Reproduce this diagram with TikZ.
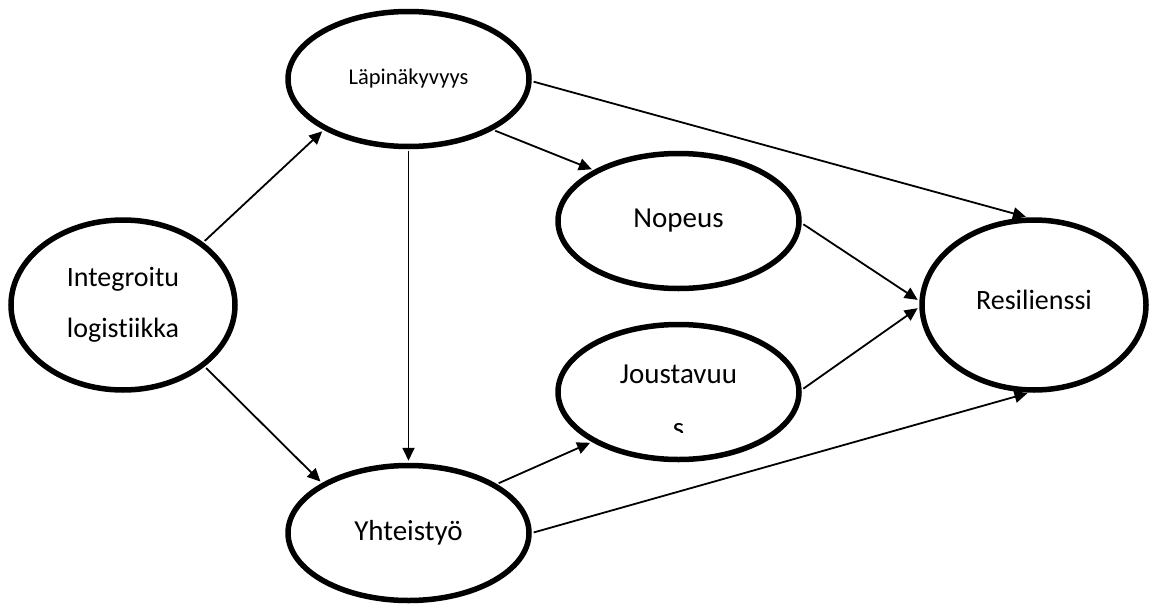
\documentclass[tikz,border=0pt]{standalone}
\usepackage{fontspec}
\setmainfont[Ligatures=NoCommon]{Carlito}
\usetikzlibrary{shapes.geometric,arrows.meta}

\tikzset{
  concept/.style={ellipse, draw=black, line width=5.5pt, fill=white, inner sep=0pt,
                  align=center, text=black},
  wide/.style={concept, minimum width=241pt, minimum height=135pt},
  round/.style={concept, minimum width=224pt, minimum height=170pt},
  link/.style={line width=1.8pt, -{Triangle[length=13pt,width=12pt]},
               shorten >=2pt, shorten <=2pt},
}

\begin{document}
\begin{tikzpicture}[x=1pt, y=-1pt]
  \useasboundingbox (0,0) rectangle (1149,605);

  % constructs
  \node[round, font=\fontsize{28}{51}\selectfont] (int) at (123,305)
    {Integroitu\\logistiikka};
  \node[wide, font=\fontsize{22.5}{26}\selectfont] (lap) at (408.5,79) {Läpinäkyvyys};
  \node[wide, font=\fontsize{29}{34}\selectfont] (nop) at (678.5,221) {Nopeus};
  \node[wide] (jou) at (678.5,392) {};
  \node[wide, font=\fontsize{29}{34}\selectfont] (yht) at (408.5,533) {Yhteistyö};
  \node[round, font=\fontsize{28}{32}\selectfont] (res) at (1034,305)
    {\raisebox{10pt}{Resilienssi}};

  % wrapped label of the flexibility construct, second line cut off
  \node[font=\fontsize{29}{34}\selectfont, anchor=base] (joutext) at (678.5,383) {Joustavuu};
  \begin{scope}
    \clip (560,400) rectangle (800,432);
    \node[font=\fontsize{29}{34}\selectfont, anchor=base] (jous) at (678.5,437) {s};
  \end{scope}

  % paths
  \draw[link] (int.38) -- (lap.211);
  \draw[link] (int.323) -- (yht.150);
  \draw[link] (lap.south) -- (yht.north);
  \draw[link] (lap.329.5) -- (nop.149);
  \draw[link] (lap.359) -- (res.94.5);
  \draw[link] (nop.359.5) -- (res.178.5);
  \draw[link] (jou.1) -- (res.181);
  \draw[link] (yht.29.5) -- (jou.210.7);
  \draw[link] (yht.0) -- (res.267);
\end{tikzpicture}
\end{document}
